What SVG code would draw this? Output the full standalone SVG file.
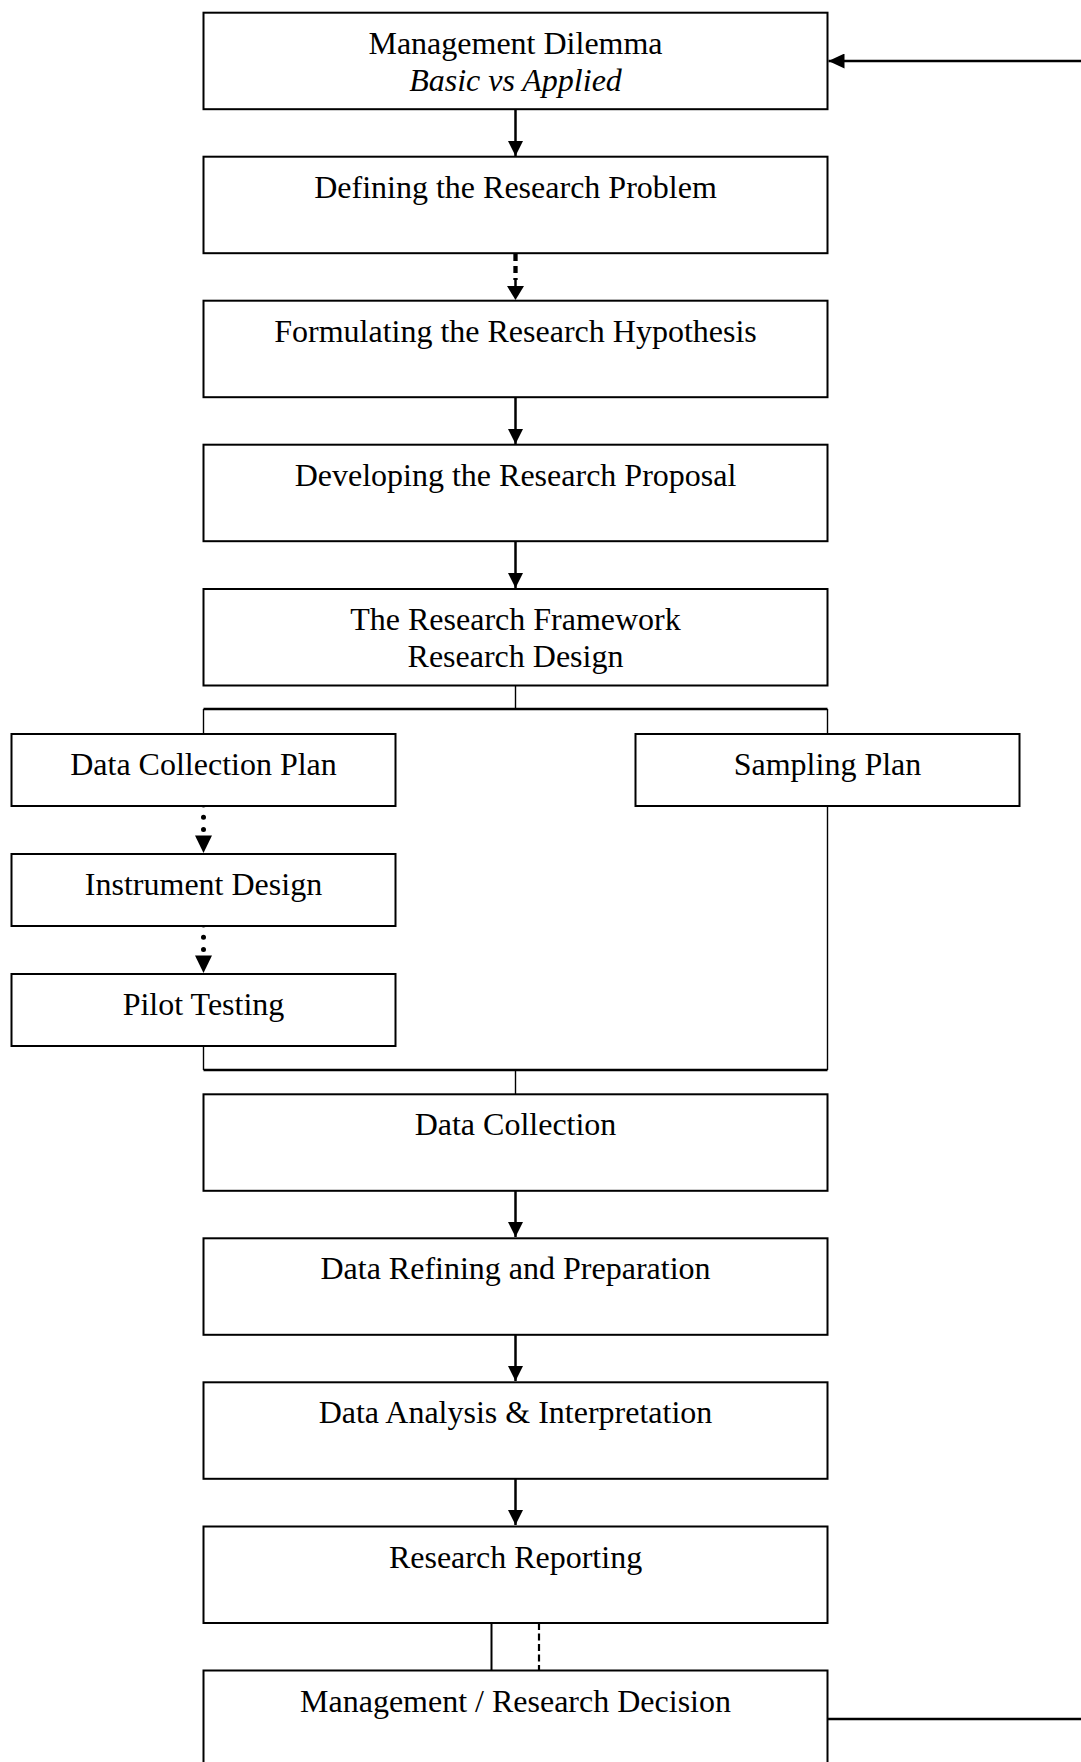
<svg xmlns="http://www.w3.org/2000/svg" width="1081" height="1762" viewBox="0 0 1081 1762">
  <style>
    .box { fill: #fff; stroke: #000; stroke-width: 2; }
    .lbl { font-family: "Liberation Serif", "Times New Roman", serif; font-size: 32px; fill: #000; text-anchor: middle; }
    .it { font-style: italic; }
    .arrow { stroke: #000; stroke-width: 2.5; fill: none; marker-end: url(#head); }
    .dots { stroke: #000; stroke-width: 5; fill: none; stroke-linecap: round; stroke-dasharray: 0 12.3; }
    .dash { stroke: #000; stroke-width: 4.3; fill: none; stroke-dasharray: 7 5; }
    .thin { stroke: #000; stroke-width: 1.4; fill: none; }
    .bus { stroke: #000; stroke-width: 2.4; fill: none; }
    .fine-dash { stroke: #000; stroke-width: 2.2; fill: none; stroke-dasharray: 7 3.5; }
  </style>
  <defs>
    <marker id="head" viewBox="0 0 15 15" refX="15" refY="7.5" markerWidth="15" markerHeight="15" markerUnits="userSpaceOnUse" orient="auto">
      <path d="M0,0 L15,7.5 L0,15 Z" fill="#000"/>
    </marker>
    <marker id="head-big" viewBox="0 0 16 15" refX="16" refY="7.5" markerWidth="16" markerHeight="15" markerUnits="userSpaceOnUse" orient="auto">
      <path d="M0,0 L16,7.5 L0,15 Z" fill="#000"/>
    </marker>
  </defs>

  <rect width="1081" height="1762" fill="#fff"/>

  <!-- connectors -->
  <g id="connectors">
    <!-- feedback loop from the decision back to the dilemma -->
    <line x1="1081" y1="61" x2="828.5" y2="61" stroke="#000" stroke-width="2.4" marker-end="url(#head-big)"/>
    <line x1="827.5" y1="1719" x2="1081" y2="1719" class="bus"/>

    <line x1="515.5" y1="110" x2="515.5" y2="156" class="arrow"/>
    <line x1="515.5" y1="254" x2="515.5" y2="280" class="dash"/>
    <line x1="515.5" y1="278" x2="515.5" y2="288" stroke="#000" stroke-width="2.5"/>
    <path d="M507,286 L515.5,300 L524,286 Z" fill="#000"/>
    <line x1="515.5" y1="398" x2="515.5" y2="444" class="arrow"/>
    <line x1="515.5" y1="542" x2="515.5" y2="588" class="arrow"/>

    <!-- split into the two plans -->
    <line x1="515.5" y1="686" x2="515.5" y2="709" class="thin"/>
    <line x1="203.5" y1="709" x2="827.5" y2="709" class="bus"/>
    <line x1="203.5" y1="709" x2="203.5" y2="733" class="thin"/>
    <line x1="827.5" y1="709" x2="827.5" y2="733" class="thin"/>

    <!-- data collection chain -->
    <line x1="203.5" y1="805" x2="203.5" y2="831" class="dots"/>
    <path d="M195,835.5 L203.5,853 L212,835.5 Z" fill="#000"/>
    <line x1="203.5" y1="925" x2="203.5" y2="951" class="dots"/>
    <path d="M195,955.5 L203.5,973 L212,955.5 Z" fill="#000"/>

    <!-- merge into data collection -->
    <line x1="203.5" y1="1046" x2="203.5" y2="1070" class="thin"/>
    <line x1="827.5" y1="806" x2="827.5" y2="1070" class="thin"/>
    <line x1="203.5" y1="1070" x2="827.5" y2="1070" class="bus"/>
    <line x1="515.5" y1="1070" x2="515.5" y2="1094" class="thin"/>

    <line x1="515.5" y1="1191" x2="515.5" y2="1237" class="arrow"/>
    <line x1="515.5" y1="1335" x2="515.5" y2="1381" class="arrow"/>
    <line x1="515.5" y1="1479" x2="515.5" y2="1525" class="arrow"/>

    <!-- reporting to decision -->
    <line x1="491.5" y1="1623" x2="491.5" y2="1670" stroke="#000" stroke-width="2"/>
    <line x1="539" y1="1623" x2="539" y2="1670" class="fine-dash"/>
  </g>

  <g id="management-dilemma">
    <rect class="box" x="203.5" y="12.7" width="624" height="96.5"/>
    <text class="lbl" x="515.5" y="53.5">Management Dilemma</text>
    <text class="lbl it" x="515.5" y="90.5">Basic vs Applied</text>
  </g>
  <g id="defining-problem">
    <rect class="box" x="203.5" y="156.7" width="624" height="96.5"/>
    <text class="lbl" x="515.5" y="197.5">Defining the Research Problem</text>
  </g>
  <g id="formulating-hypothesis">
    <rect class="box" x="203.5" y="300.7" width="624" height="96.5"/>
    <text class="lbl" x="515.5" y="341.5">Formulating the Research Hypothesis</text>
  </g>
  <g id="research-proposal">
    <rect class="box" x="203.5" y="444.7" width="624" height="96.5"/>
    <text class="lbl" x="515.5" y="485.5">Developing the Research Proposal</text>
  </g>
  <g id="research-framework">
    <rect class="box" x="203.5" y="589" width="624" height="96.5"/>
    <text class="lbl" x="515.5" y="630">The Research Framework</text>
    <text class="lbl" x="515.5" y="667">Research Design</text>
  </g>
  <g id="data-collection-plan">
    <rect class="box" x="11.5" y="734" width="384" height="72"/>
    <text class="lbl" x="203.5" y="775">Data Collection Plan</text>
  </g>
  <g id="sampling-plan">
    <rect class="box" x="635.5" y="734" width="384" height="72"/>
    <text class="lbl" x="827.5" y="775">Sampling Plan</text>
  </g>
  <g id="instrument-design">
    <rect class="box" x="11.5" y="854" width="384" height="72"/>
    <text class="lbl" x="203.5" y="894.5">Instrument Design</text>
  </g>
  <g id="pilot-testing">
    <rect class="box" x="11.5" y="974" width="384" height="72"/>
    <text class="lbl" x="203.5" y="1015">Pilot Testing</text>
  </g>
  <g id="data-collection">
    <rect class="box" x="203.5" y="1094.3" width="624" height="96.5"/>
    <text class="lbl" x="515.5" y="1135.3">Data Collection</text>
  </g>
  <g id="data-refining">
    <rect class="box" x="203.5" y="1238.3" width="624" height="96.5"/>
    <text class="lbl" x="515.5" y="1279.3">Data Refining and Preparation</text>
  </g>
  <g id="data-analysis">
    <rect class="box" x="203.5" y="1382.3" width="624" height="96.5"/>
    <text class="lbl" x="515.5" y="1423.3">Data Analysis &amp; Interpretation</text>
  </g>
  <g id="research-reporting">
    <rect class="box" x="203.5" y="1526.5" width="624" height="96.5"/>
    <text class="lbl" x="515.5" y="1567.5">Research Reporting</text>
  </g>
  <g id="management-decision">
    <rect class="box" x="203.5" y="1670.5" width="624" height="96.5"/>
    <text class="lbl" x="515.5" y="1711.5">Management / Research Decision</text>
  </g>
</svg>
